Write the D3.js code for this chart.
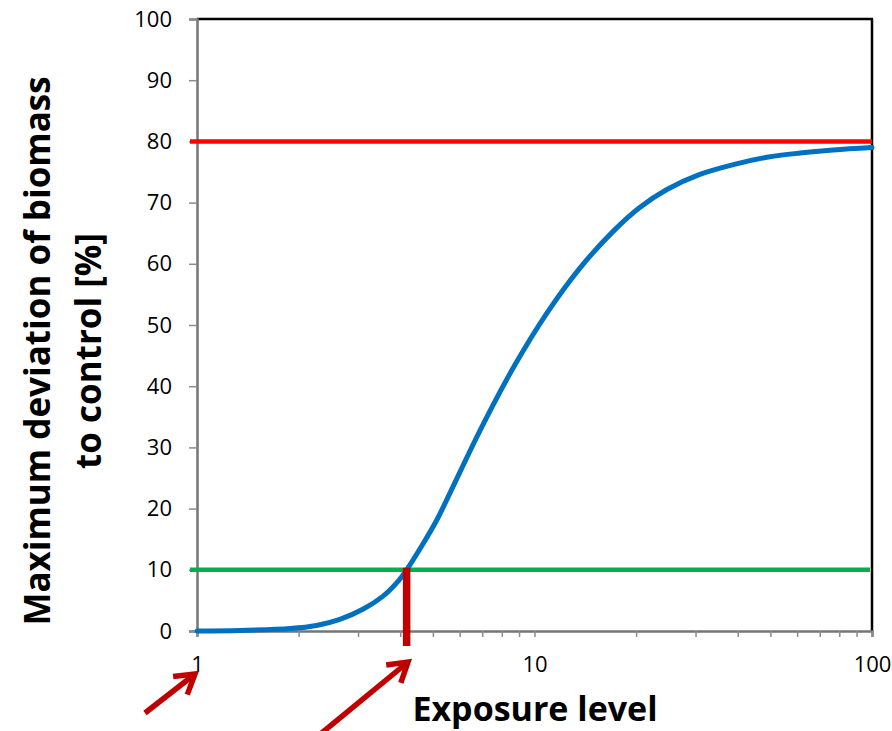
<!DOCTYPE html>
<html>
<head>
<meta charset="utf-8">
<script src="https://cdn.jsdelivr.net/npm/d3@7"></script>
<style>
  body { margin: 0; background: #fff; }
  text { font-family: "Open Sans", sans-serif; }
</style>
</head>
<body>
<div id="svg-holder"></div>
<script>
var width = 892;
var height = 731;

// dose-response curve
var exposure = [1, 1.34, 1.89, 2.26, 2.65, 3.11, 3.56, 3.91, 4.18, 4.68, 5.13, 5.49, 6.90, 8.65, 10.87, 13.63, 17.1, 20.5, 24.6, 30.9, 38.8, 48.8, 61.2, 76.8, 100];
var deviation = [0, 0.1, 0.4, 0.9, 1.9, 3.6, 5.7, 7.9, 10.0, 14.3, 18.1, 21.4, 32.8, 43.0, 51.9, 59.3, 65.3, 69.2, 72.1, 74.6, 76.2, 77.4, 78.1, 78.6, 79.0];

var yTicks = [0, 10, 20, 30, 40, 50, 60, 70, 80, 90, 100];
var xTicks = [1, 10, 100];
var xMinor = [2, 3, 4, 5, 6, 7, 8, 9, 20, 30, 40, 50, 60, 70, 80, 90];

var upperLimit = 80;   // red line
var lowerLimit = 10;   // green line
var crossing = 4.18;   // where curve meets the 10 % line

var plotLeft = 197, plotRight = 872, plotTop = 19, plotBottom = 631;

var svg = d3.select('#svg-holder').append('svg')
            .attr("width", width)
            .attr("height", height);

var x = d3.scaleLog().domain([1, 100]).range([plotLeft, plotRight]);
var y = d3.scaleLinear().domain([0, 100]).range([plotBottom, plotTop]);

// frame: top and right in black
svg.append('line')
    .attr('x1', plotLeft).attr('x2', plotRight + 1)
    .attr('y1', plotTop).attr('y2', plotTop)
    .attr('stroke', '#000').attr('stroke-width', 2.5);
svg.append('line')
    .attr('x1', plotRight).attr('x2', plotRight)
    .attr('y1', plotTop).attr('y2', plotBottom)
    .attr('stroke', '#000').attr('stroke-width', 2.5);

// y axis
var yAxis = svg.append('g')
    .attr('transform', 'translate(' + plotLeft + ',0)')
    .call(d3.axisLeft(y).tickValues(yTicks).tickSize(8).tickPadding(17));
yAxis.select('.domain').attr('stroke', '#767676').attr('stroke-width', 2.5);
yAxis.selectAll('.tick line').attr('stroke', '#8c8c8c').attr('stroke-width', 1.5);
yAxis.selectAll('.tick text').attr('font-size', 22).attr('fill', '#000')
    .attr('font-family', '"Open Sans", sans-serif');

// x axis (log)
var xAxis = svg.append('g')
    .attr('transform', 'translate(0,' + plotBottom + ')')
    .call(d3.axisBottom(x).tickValues(xTicks.concat(xMinor)).tickSize(6).tickPadding(19)
        .tickFormat(function(d) { return xTicks.indexOf(d) >= 0 ? d : ''; }));
xAxis.select('.domain').attr('stroke', '#767676').attr('stroke-width', 2.5);
xAxis.selectAll('.tick line').attr('stroke', '#8c8c8c').attr('stroke-width', 1.5);
xAxis.selectAll('.tick text').attr('font-size', 22).attr('fill', '#000')
    .attr('font-family', '"Open Sans", sans-serif');

// threshold lines
svg.append('line')
    .attr('x1', plotLeft - 7).attr('x2', plotRight)
    .attr('y1', y(upperLimit)).attr('y2', y(upperLimit))
    .attr('stroke', '#ff0000').attr('stroke-width', 4.5);
svg.append('line')
    .attr('x1', plotLeft - 7).attr('x2', plotRight - 2)
    .attr('y1', y(lowerLimit)).attr('y2', y(lowerLimit))
    .attr('stroke', '#00b050').attr('stroke-width', 4.5);

// curve
var pts = exposure.map(function(d, i) { return [d, deviation[i]]; });
var line = d3.line()
    .x(function(d) { return x(d[0]); })
    .y(function(d) { return y(d[1]); })
    .curve(d3.curveCatmullRom.alpha(0.5));
svg.append('path')
    .datum(pts)
    .attr('d', line)
    .attr('fill', 'none')
    .attr('stroke', '#0070c0')
    .attr('stroke-width', 5)
    .attr('stroke-linecap', 'round');

// marker bar from 10 % line down below axis
svg.append('line')
    .attr('x1', x(crossing)).attr('x2', x(crossing))
    .attr('y1', y(lowerLimit) - 2).attr('y2', y(0) + 15)
    .attr('stroke', '#c00000').attr('stroke-width', 7.5);

// arrows
function arrow(x1, y1, x2, y2) {
    var a = Math.atan2(y2 - y1, x2 - x1);
    var len = 22, sp = 0.55;
    var g = svg.append('g').attr('stroke', '#c00000').attr('stroke-width', 5.5)
        .attr('fill', 'none').attr('stroke-linecap', 'butt');
    g.append('line').attr('x1', x1).attr('y1', y1).attr('x2', x2).attr('y2', y2);
    g.append('path')
        .attr('stroke-linejoin', 'miter')
        .attr('d', 'M' + (x2 - len * Math.cos(a - sp)) + ',' + (y2 - len * Math.sin(a - sp)) +
                   'L' + x2 + ',' + y2 +
                   'L' + (x2 - len * Math.cos(a + sp)) + ',' + (y2 - len * Math.sin(a + sp)));
}
arrow(145, 713, 195, 674);
arrow(318, 736, 408, 662);

// axis titles
svg.append('text')
    .attr('x', 535).attr('y', 721)
    .attr('text-anchor', 'middle')
    .attr('font-size', 34).attr('font-weight', 'bold')
    .text('Exposure level');

var yt = svg.append('text')
    .attr('transform', 'translate(0,351) rotate(-90)')
    .attr('text-anchor', 'middle')
    .attr('font-size', 35).attr('font-weight', 'bold');
yt.append('tspan').attr('x', 0).attr('y', 50).text('Maximum deviation of biomass');
yt.append('tspan').attr('x', 0).attr('y', 101).text('to control [%]');
</script>
</body>
</html>
